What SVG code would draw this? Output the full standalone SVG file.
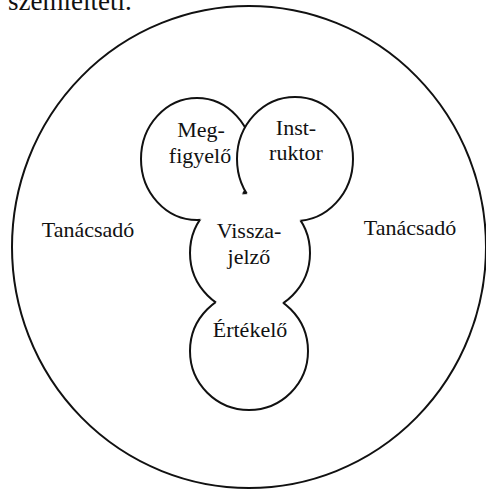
<svg xmlns="http://www.w3.org/2000/svg" width="486" height="490" viewBox="0 0 486 490">
<style>
.ring{fill:none;stroke:#111;stroke-width:2}
.lbl{font-family:"Liberation Serif","Times New Roman",serif;font-size:22px;fill:#111;text-anchor:middle}
.cap{font-family:"Liberation Serif","Times New Roman",serif;font-size:27px;fill:#111}
</style>
<defs>
<mask id="mM" maskUnits="userSpaceOnUse" x="0" y="0" width="486" height="490">
<rect width="486" height="490" fill="#fff"/>
<ellipse cx="295" cy="159" rx="58" ry="62" fill="#000"/>
<circle cx="250" cy="253" r="60" fill="#000"/>
</mask>
<mask id="mI" maskUnits="userSpaceOnUse" x="0" y="0" width="486" height="490">
<rect width="486" height="490" fill="#fff"/>
<circle cx="250" cy="253" r="60" fill="#000"/>
</mask>
<mask id="mV" maskUnits="userSpaceOnUse" x="0" y="0" width="486" height="490">
<rect width="486" height="490" fill="#fff"/>
<ellipse cx="197" cy="159" rx="56" ry="61" fill="#000"/>
<ellipse cx="295" cy="159" rx="58" ry="62" fill="#000"/>
<circle cx="249" cy="351" r="59" fill="#000"/>
</mask>
<mask id="mE" maskUnits="userSpaceOnUse" x="0" y="0" width="486" height="490">
<rect width="486" height="490" fill="#fff"/>
<circle cx="250" cy="253" r="60" fill="#000"/>
</mask>
</defs>
<rect width="486" height="490" fill="#fff"/>
<text class="cap" x="8" y="10">szemlélteti.</text>
<g id="tanacsado">
<ellipse class="ring" cx="249" cy="247" rx="237" ry="241"/>
<text class="lbl" x="88" y="237">Tanácsadó</text>
<text class="lbl" x="410" y="235">Tanácsadó</text>
</g>
<g id="megfigyelo">
<ellipse class="ring" cx="197" cy="159" rx="56" ry="61" mask="url(#mM)"/>
<text class="lbl" x="201" y="137">Meg-</text>
<text class="lbl" x="200" y="163">figyelő</text>
</g>
<g id="instruktor">
<ellipse class="ring" cx="295" cy="159" rx="58" ry="62" mask="url(#mI)"/>
<text class="lbl" x="296" y="135">Inst-</text>
<text class="lbl" x="296" y="160">ruktor</text>
</g>
<g id="visszajelzo">
<circle class="ring" cx="250" cy="253" r="60" mask="url(#mV)"/>
<text class="lbl" x="249" y="238">Vissza-</text>
<text class="lbl" x="249" y="264">jelző</text>
</g>
<g id="ertekelo">
<circle class="ring" cx="249" cy="351" r="59" mask="url(#mE)"/>
<text class="lbl" x="250" y="337">Értékelő</text>
</g>
</svg>
